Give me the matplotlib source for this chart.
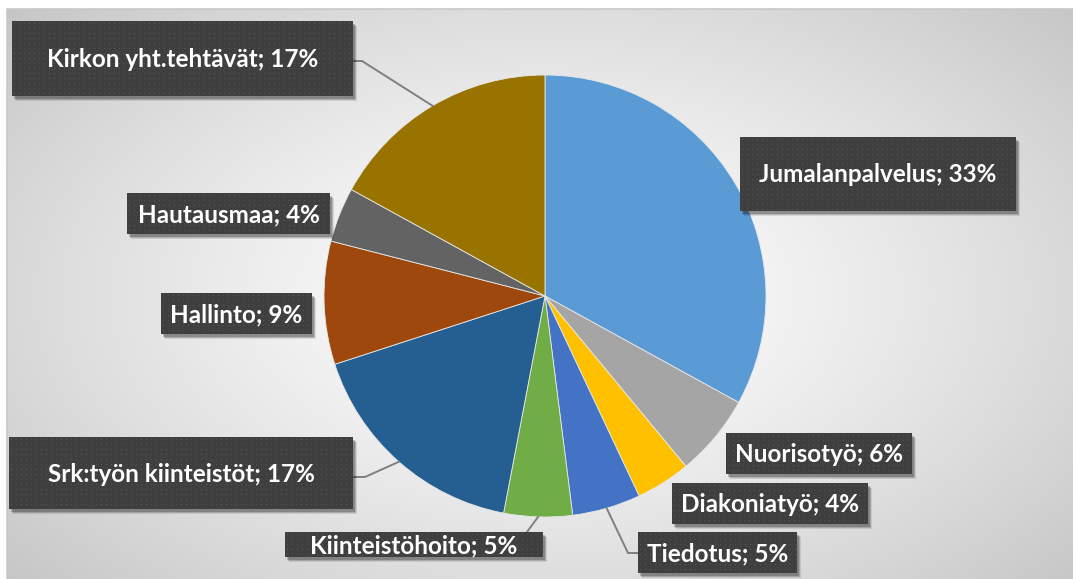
import math
import numpy as np
import matplotlib.pyplot as plt
from matplotlib.patches import Rectangle

# ---------- data ----------
labels = ["Jumalanpalvelus", "Nuorisotyö", "Diakoniatyö", "Tiedotus",
          "Kiinteistöhoito", "Srk:työn kiinteistöt", "Hallinto",
          "Hautausmaa", "Kirkon yht.tehtävät"]
shares = [33, 6, 4, 5, 5, 17, 9, 4, 17]
colors = ["#5B9BD5", "#A5A5A5", "#FFC000", "#4472C4", "#70AD47",
          "#255E91", "#9E480E", "#636363", "#997300"]

# ---------- layout (pixels, origin top-left) ----------
W, H = 1073, 579
CX, CY, R = 545, 296, 221
boxes = [(740, 137, 1016, 211), (726, 433, 912, 474), (672, 483, 868, 524),
         (638, 532, 797, 573), (285, 532, 543, 557), (9, 437, 353, 509),
         (161, 293, 312, 334), (127, 193, 330, 234), (12, 21, 353, 96)]
leaders = {8: [(353, 61), (362, 61)],
           5: [(353, 477), (365, 477)],
           4: [(527, 532)],
           3: [(638, 553), (628, 553)]}

fig = plt.figure(figsize=(W / 100, H / 100), dpi=100)
fig.patch.set_facecolor("white")

# background with radial gradient
bg = fig.add_axes([0, 0, 1, 1], zorder=0)
bg.set_xlim(0, W)
bg.set_ylim(H, 0)
bg.axis("off")
yy, xx = np.mgrid[0:H, 0:W]
d = np.sqrt(((xx - CX) / 560.0) ** 2 + ((yy - CY) / 330.0) ** 2)
v = np.clip(1.0 - 0.16 * d ** 1.3, 0, 1)
img = np.dstack([v, v, v])
img[:9, :, :] = 1.0
img[:, :7, :] = 1.0
bg.imshow(img, extent=(0, W, H, 0), interpolation="bilinear", aspect="auto")
bg.plot([7, 7, W], [H, 9, 9], color="#c8c8c8", lw=1.2)

# pie
pax = fig.add_axes([(CX - R) / W, (H - CY - R) / H, 2 * R / W, 2 * R / H], zorder=1)
pax.pie(shares, colors=colors, startangle=90, counterclock=False, radius=1,
        wedgeprops=dict(edgecolor="#e8e8e8", linewidth=0.6))
pax.set_xlim(-1, 1)
pax.set_ylim(-1, 1)
pax.axis("off")

# labels overlay
ov = fig.add_axes([0, 0, 1, 1], zorder=2)
ov.set_xlim(0, W)
ov.set_ylim(H, 0)
ov.axis("off")
ov.patch.set_alpha(0)

total = sum(shares)
cum = 0
for i, (name, val) in enumerate(zip(labels, shares)):
    mid = (cum + val / 2) / total * 2 * math.pi
    cum += val
    ex = CX + R * math.sin(mid)
    ey = CY - R * math.cos(mid)
    if i in leaders:
        pts = leaders[i] + [(ex, ey)]
        ov.plot([p[0] for p in pts], [p[1] for p in pts], color="#7f7f7f",
                lw=1.4, zorder=1, solid_joinstyle="miter")
    x0, y0, x1, y1 = boxes[i]
    w, h = x1 - x0, y1 - y0
    # shadow
    for k, a in [(5, 0.10), (4, 0.15), (3, 0.22)]:
        ov.add_patch(Rectangle((x0 + k - 1, y0 + k), w, h, facecolor="#000000",
                               alpha=a, lw=0, zorder=2))
    # dotted texture
    tex = np.full((h, w, 3), 0x3f / 255.0)
    tex[2::5, 2::5, :] = 0x55 / 255.0
    ov.imshow(tex, extent=(x0, x1, y1, y0), interpolation="nearest",
              aspect="auto", zorder=3)
    ov.text((x0 + x1) / 2, (y0 + y1) / 2 + 1, f"{name}; {val}%", color="white",
            fontsize=17.5, fontweight="bold", family="Lato",
            ha="center", va="center", zorder=4)

ov.set_xlim(0, W)
ov.set_ylim(H, 0)
fig.savefig("out.png", dpi=100)
